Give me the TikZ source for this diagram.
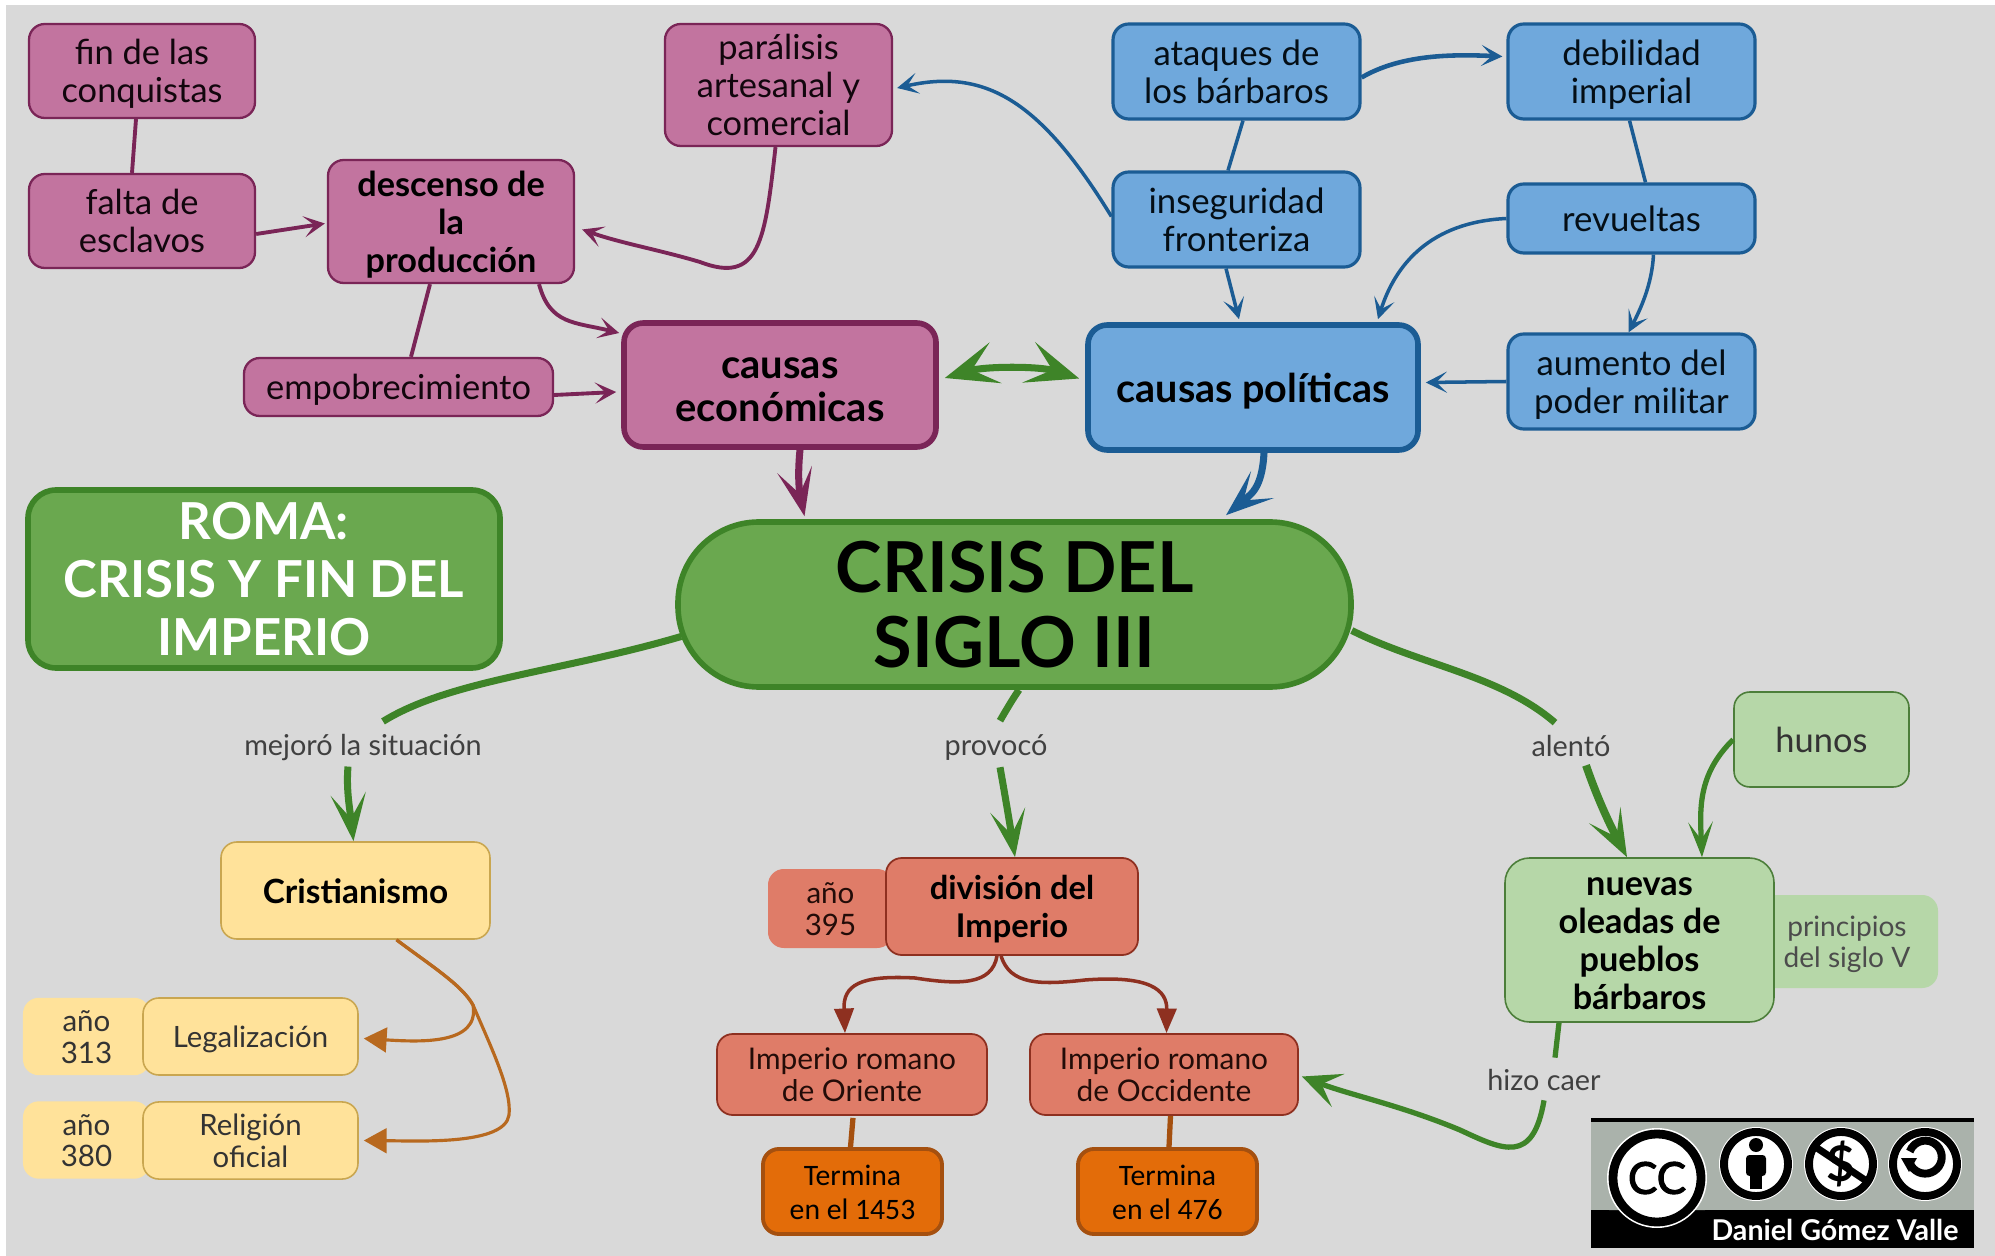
\documentclass[tikz,border=0pt]{standalone}
\usepackage{fontspec}
\setmainfont{Lato}
\newfontfamily\calfont{Carlito}
\newfontfamily\ccfont[FakeBold=2.5]{Lato}
\usetikzlibrary{arrows.meta,calc}
\definecolor{bg}{HTML}{D9D9D9}
\definecolor{pinkF}{HTML}{C2749F}
\definecolor{pinkD}{HTML}{7A2557}
\definecolor{blueF}{HTML}{6FA8DC}
\definecolor{blueD}{HTML}{1B5C94}
\definecolor{greenF}{HTML}{6AA84F}
\definecolor{greenD}{HTML}{3E8428}
\definecolor{yelF}{HTML}{FFE29A}
\definecolor{yelD}{HTML}{C9A650}
\definecolor{salF}{HTML}{DF7C68}
\definecolor{salD}{HTML}{8E3020}
\definecolor{oraF}{HTML}{E36C09}
\definecolor{oraD}{HTML}{A5500F}
\definecolor{oraL}{HTML}{B8691F}
\definecolor{lgrF}{HTML}{B6D7A8}
\definecolor{lgrD}{HTML}{4C7E3A}
\definecolor{ccg}{HTML}{AAB2AB}
\tikzset{
  nbox/.style={rounded corners=9pt,align=center,inner sep=0pt,line width=1.3pt},
  pinkb/.style={nbox,fill=pinkF,draw=pinkD,text=black!85!pinkD,font=\fontsize{19.6}{21.6}\selectfont},
  pinkB/.style={pinkb,font=\fontsize{19.5}{21.6}\selectfont\bfseries,text=black},
  pinkT/.style={pinkb,line width=3.2pt,rounded corners=11pt,font=\fontsize{22.7}{24.5}\selectfont\bfseries,text=black},
  blueb/.style={nbox,fill=blueF,draw=blueD,line width=1.8pt,text=black!85!blueD,font=\fontsize{19.8}{21.6}\selectfont},
  blueT/.style={blueb,line width=3.2pt,rounded corners=11pt,font=\fontsize{22.5}{24.5}\selectfont\bfseries,text=black},
  yelb/.style={nbox,fill=yelF,draw=yelD,line width=.9pt,text=black!80,font=\fontsize{16.7}{18}\selectfont},
  yels/.style={nbox,fill=yelF,text=black!80,font=\fontsize{16.8}{18}\selectfont},
  salb/.style={nbox,fill=salF,draw=salD,line width=1pt,text=black!75!salD,font=\fontsize{17}{18}\selectfont},
  sals/.style={nbox,fill=salF,text=black!75!salD,font=\fontsize{16.8}{18}\selectfont},
  orab/.style={nbox,fill=oraF,draw=oraD,line width=2.2pt,text=black,font=\calfont\fontsize{16.9}{19}\selectfont},
  lgrb/.style={nbox,fill=lgrF,draw=lgrD,line width=.9pt,text=black!80,font=\fontsize{19.6}{21.6}\selectfont},
  lgrs/.style={nbox,fill=lgrF,text=black!70,font=\fontsize{16}{18}\selectfont},
  lab/.style={inner sep=0pt,minimum height=24*0.02cm,text=black!75,font=\fontsize{16.4}{18}\selectfont},
  tipS/.tip={Stealth[length=12pt,width=12pt,inset=6pt]},
  tipL/.tip={Stealth[length=27pt,width=20pt,inset=14pt]},
  tipD/.tip={Stealth[length=30pt,width=24pt,inset=14pt]},
  pinkl/.style={draw=pinkD,line width=2.2pt},
  bluel/.style={draw=blueD,line width=2pt},
  greenl/.style={draw=greenD,line width=3pt},
  salbr/.style={draw=salD,line width=2pt},
  oral/.style={draw=oraL,line width=1.8pt},
  brl/.style={draw=oraD,line width=3pt},
}
\newcommand{\stt}{\rule{0pt}{1.15em}}
\newcommand{\stb}{\rule[-0.4em]{0pt}{0.4em}}
\newcommand{\sttm}{\rule{0pt}{.95em}}
\newcommand{\stbm}{\rule[-0.2em]{0pt}{0.2em}}
% \bx{name}{style}{x1}{y1}{x2}{y2}{text}
\newcommand{\bxc}[7]{%
  \pgfmathsetmacro{\myw}{(#5-#3)*0.02}%
  \pgfmathsetmacro{\myh}{(#6-#4)*0.02}%
  \pgfmathsetmacro{\mycx}{(#3+#5)/2}%
  \pgfmathsetmacro{\mycy}{(#4+#6)/2}%
  \node[#2,minimum width=\myw cm,minimum height=\myh cm] (#1) at (\mycx,\mycy) {#7};}
\newcommand{\bx}[7]{\bxc{#1}{#2}{#3}{#4}{#5}{#6}{\stt #7\stb}}
\newcommand{\bxm}[7]{\bxc{#1}{#2}{#3}{#4}{#5}{#6}{\sttm #7\stbm}}
\begin{document}
\begin{tikzpicture}[x=0.02cm,y=-0.02cm]
\useasboundingbox (0,0) rectangle (1995,1256);
\fill[white] (0,0) rectangle (1995,1256);
\fill[bg] (6,5) rectangle (1995,1256);
% pink
\bx{fin}{pinkb}{29}{24}{255}{118}{fin de las\\conquistas}
\bx{fal}{pinkb}{29}{174}{255}{268}{falta de\\esclavos}
\bxm{des}{pinkB}{328}{160}{574}{283}{descenso de\\la\\producción}
\bxm{par}{pinkb}{665}{24}{892}{146}{parálisis\\artesanal y\\comercial}
\bx{emp}{pinkb}{244}{358}{553}{416}{empobrecimiento}
\bx{ce}{pinkT}{624}{323}{936}{447}{causas\\económicas}
% blue
\bx{ata}{blueb}{1113}{24}{1360}{119}{ataques de\\los bárbaros}
\bx{deb}{blueb}{1508}{24}{1755}{119}{debilidad\\imperial}
\bx{ins}{blueb}{1113}{172}{1360}{267}{inseguridad\\fronteriza}
\bx{rev}{blueb}{1508}{184}{1755}{253}{revueltas}
\bx{aum}{blueb}{1508}{334}{1755}{429}{aumento del\\poder militar}
\bx{pol}{blueT}{1088}{325}{1418}{450}{causas políticas}
% green
\bxc{rom}{nbox,fill=greenF,draw=greenD,line width=3.2pt,rounded corners=16pt,text=white,font=\fontsize{29}{33}\selectfont\bfseries}{28}{490}{500}{668}{ROMA:\\CRISIS Y FIN DEL\\IMPERIO}
\bxc{cri}{nbox,fill=greenF,draw=greenD,line width=3.2pt,rounded corners=46pt,text=black,font=\fontsize{40}{43}\selectfont\bfseries}{678}{522}{1351}{687}{CRISIS DEL\\SIGLO III}
% labels
\node[lab] (mej) at (363,748) {mejoró la situación};
\node[lab] (pro) at (996,748) {provocó};
\node[lab] (ale) at (1571,746) {alentó};
\node[lab] (hiz) at (1544,1080) {hizo caer};
% yellow
\bx{cris}{yelb,font=\fontsize{19}{21.6}\selectfont\bfseries,text=black}{221}{842}{490}{939}{Cristianismo}
\bx{a313}{yels}{23}{998}{150}{1075}{año\\313}
\bx{leg}{yelb}{143}{998}{358}{1075}{Legalización}
\bx{a380}{yels}{23}{1102}{150}{1178}{año\\380}
\bx{rel}{yelb}{143}{1102}{358}{1179}{Religión\\oficial}
% salmon
\bx{a395}{sals}{768}{869}{893}{948}{año\\395}
\bx{div}{salb,font=\fontsize{18.6}{21.6}\selectfont\bfseries,text=black}{886}{858}{1138}{955}{división del\\Imperio}
\bx{ori}{salb}{717}{1034}{987}{1115}{Imperio romano\\de Oriente}
\bx{occ}{salb}{1030}{1034}{1298}{1115}{Imperio romano\\de Occidente}
\bx{tu}{orab}{763}{1149}{942}{1234}{Termina\\en el 1453}
\bx{td}{orab}{1078}{1149}{1257}{1234}{Termina\\en el 476}
% light green
\bx{hun}{lgrb}{1734}{692}{1909}{787}{hunos}
\bx{pri}{lgrs}{1756}{895}{1938}{988}{principios\\del siglo V}
\bxm{nue}{lgrb,font=\fontsize{19.5}{21.6}\selectfont\bfseries,text=black,rounded corners=14pt}{1505}{858}{1774}{1022}{nuevas\\oleadas de\\pueblos\\bárbaros}
% pink connectors
\draw[pinkl] ([shift={(-6,0)}]fin.south) -- ([shift={(-10,0)}]fal.north);
\draw[pinkl,-{tipS}] ([shift={(0,13)}]fal.east) -- ([shift={(-2,2)}]des.west);
\draw[pinkl,-{tipS}] ([shift={(-3,0)}]par.south) .. controls (765,240) and (760,285) .. (700,262) .. controls (660,250) and (620,243) .. ([shift={(7,8)}]des.east);
\draw[pinkl,-{tipS}] ([shift={(88,0)}]des.south) .. controls (550,325) and (575,322) .. ([shift={(-2,-52)}]ce.west);
\draw[pinkl] ([shift={(-21,0)}]des.south) -- ([shift={(12.5,0)}]emp.north);
\draw[pinkl,-{tipS}] ([shift={(0,8)}]emp.east) -- ([shift={(-5,7)}]ce.west);
\draw[draw=pinkD,line width=4pt,-{tipL}] ([shift={(20,0)}]ce.south) .. controls (797,480) and (800,495) .. ([shift={(-210,-3)}]cri.north);
% green double
\draw[draw=greenD,line width=4pt,{tipD}-{tipD}] ([shift={(6,-7)}]ce.east) .. controls (985,366) and (1040,366) .. ([shift={(-6,-9)}]pol.west);
% blue connectors
\draw[bluel,-{tipS}] ([shift={(0,-3)}]ins.west) .. controls (1040,100) and (985,68) .. ([shift={(4,3)}]par.east);
\draw[bluel] ([shift={(6.5,0)}]ata.south) -- ([shift={(-8.5,0)}]ins.north);
\draw[draw=blueD,line width=2.6pt,-{tipS}] ([shift={(0,6)}]ata.east) .. controls (1400,55) and (1450,54) .. ([shift={(-4,-15)}]deb.west);
\draw[bluel] ([shift={(-2,0)}]deb.south) -- ([shift={(14,0)}]rev.north);
\draw[bluel,-{tipS}] ([shift={(-10.5,0)}]ins.south) -- ([shift={(-14,-3)}]pol.north);
\draw[bluel,-{tipS}] (rev.west) .. controls (1430,222) and (1395,265) .. ([shift={(125,-3)}]pol.north);
\draw[bluel,-{tipS}] ([shift={(22,0)}]rev.south) .. controls (1652,285) and (1640,310) .. ([shift={(-3,0)}]aum.north);
\draw[bluel,-{tipS}] (aum.west) -- ([shift={(5,-5)}]pol.east);
\draw[draw=blueD,line width=4pt,-{tipL}] ([shift={(11,0)}]pol.south) .. controls (1262,490) and (1250,495) .. ([shift={(211.5,-4)}]cri.north);
% crisis outgoing
\draw[greenl,line width=4pt] ([shift={(6,32)}]cri.west) .. controls (560,672) and (450,680) .. ([shift={(20,-13)}]mej.north);
\draw[greenl,line width=4pt,-{tipL}] ([shift={(-15,5)}]mej.south) .. controls (346,790) and (350,810) .. ([shift={(-2,0)}]cris.north);
\draw[greenl,line width=4pt] ([shift={(4.5,0)}]cri.south) .. controls (1012,700) and (1005,712) .. ([shift={(4,-14)}]pro.north);
\draw[greenl,line width=4pt,-{tipL}] ([shift={(4,6)}]pro.south) .. controls (1005,795) and (1010,825) .. ([shift={(3,0)}]div.north);
\draw[greenl,line width=4pt] ([shift={(-2,26)}]cri.east) .. controls (1420,665) and (1500,675) .. ([shift={(-16,-11)}]ale.north);
\draw[greenl,line width=4.5pt,-{tipL}] ([shift={(15,7)}]ale.south) .. controls (1598,800) and (1610,825) .. ([shift={(-12.5,0)}]nue.north);
\draw[greenl,-{Stealth[length=20pt,width=14pt,inset=10pt]}] (hun.west) .. controls (1697,775) and (1700,810) .. ([shift={(62.5,0)}]nue.north);
\draw[greenl] ([shift={(-80.5,0)}]nue.south) -- ([shift={(11,-10)}]hiz.north);
\draw[greenl,-{Stealth[length=22pt,width=20pt,inset=10pt]}] ([shift={(0,8)}]hiz.south) .. controls (1533,1165) and (1503,1150) .. (1460,1130) .. controls (1400,1105) and (1350,1095) .. ([shift={(3,2)}]occ.east);
% yellow connectors
\draw[oral,-{Stealth[length=13pt,width=14pt,inset=0pt]}] ([shift={(41,0)}]cris.south) .. controls (430,965) and (462,985) .. (473,1005) .. controls (480,1045) and (420,1042) .. ([shift={(5,2)}]leg.east);
\draw[oral,-{Stealth[length=13pt,width=14pt,inset=0pt]}] ([shift={(41,0)}]cris.south) .. controls (430,965) and (462,985) .. (473,1005) .. controls (490,1045) and (512,1090) .. (509,1115) .. controls (505,1145) and (420,1141) .. ([shift={(5,0)}]rel.east);
% salmon connectors
\draw[salbr,-{Stealth[length=14pt,width=11pt,inset=0pt]}] ([shift={(-15,0)}]div.south) .. controls (992,985) and (960,985) .. (915,978) .. controls (860,975) and (843,985) .. ([shift={(-7,0)}]ori.north);
\draw[salbr,-{Stealth[length=14pt,width=11pt,inset=0pt]}] ([shift={(-11,0)}]div.south) .. controls (1010,985) and (1040,985) .. (1085,980) .. controls (1150,975) and (1167,990) .. ([shift={(2.5,0)}]occ.north);
\draw[brl] ([shift={(1,2)}]ori.south) -- ([shift={(-2,0)}]tu.north);
\draw[brl] ([shift={(6.5,0)}]occ.south) -- ([shift={(1.5,0)}]td.north);
% licence badge
\fill[ccg] (1591,1118) rectangle (1974,1248);
\fill[black] (1591,1118) rectangle (1974,1122);
\fill[black] (1591,1210) rectangle (1974,1248);
\fill[ccg] (1609,1210) arc[start angle=180,end angle=360,x radius=48,y radius=28] -- cycle;
\fill[white] (1657,1178) circle[radius=50];
\draw[black,fill=white,line width=5pt] (1657,1178) circle[radius=44];
\node[inner sep=0pt,font=\ccfont\fontsize{25}{25}\selectfont] (cc) at (1657,1178) {CC};
\foreach \cx in {1756,1841,1925} {
  \fill[white] (\cx,1164) circle[radius=37];
  \draw[black,fill=white,line width=4.5pt] (\cx,1164) circle[radius=32];
}
\fill[black] (1756,1145) circle[radius=7];
\fill[black,rounded corners=2pt] (1746,1155) rectangle (1766,1176);
\fill[black] (1750,1170) rectangle (1762,1189);
\node[inner sep=0pt,font=\fontsize{28}{28}\selectfont\bfseries] (dol) at (1841,1164) {\$};
\draw[black,line width=4pt] (1814,1146) -- (1868,1182);
\draw[black,line width=4.5pt] (1909,1160) arc[start angle=170,end angle=-160,radius=16.5];
\fill[black] (1901,1158) -- (1917,1158) -- (1909,1172) -- cycle;
\node[inner sep=0pt,text=white,font=\fontsize{16.3}{18}\selectfont\bfseries] (aut) at (1835,1230) {Daniel Gómez Valle};
\end{tikzpicture}
\end{document}
